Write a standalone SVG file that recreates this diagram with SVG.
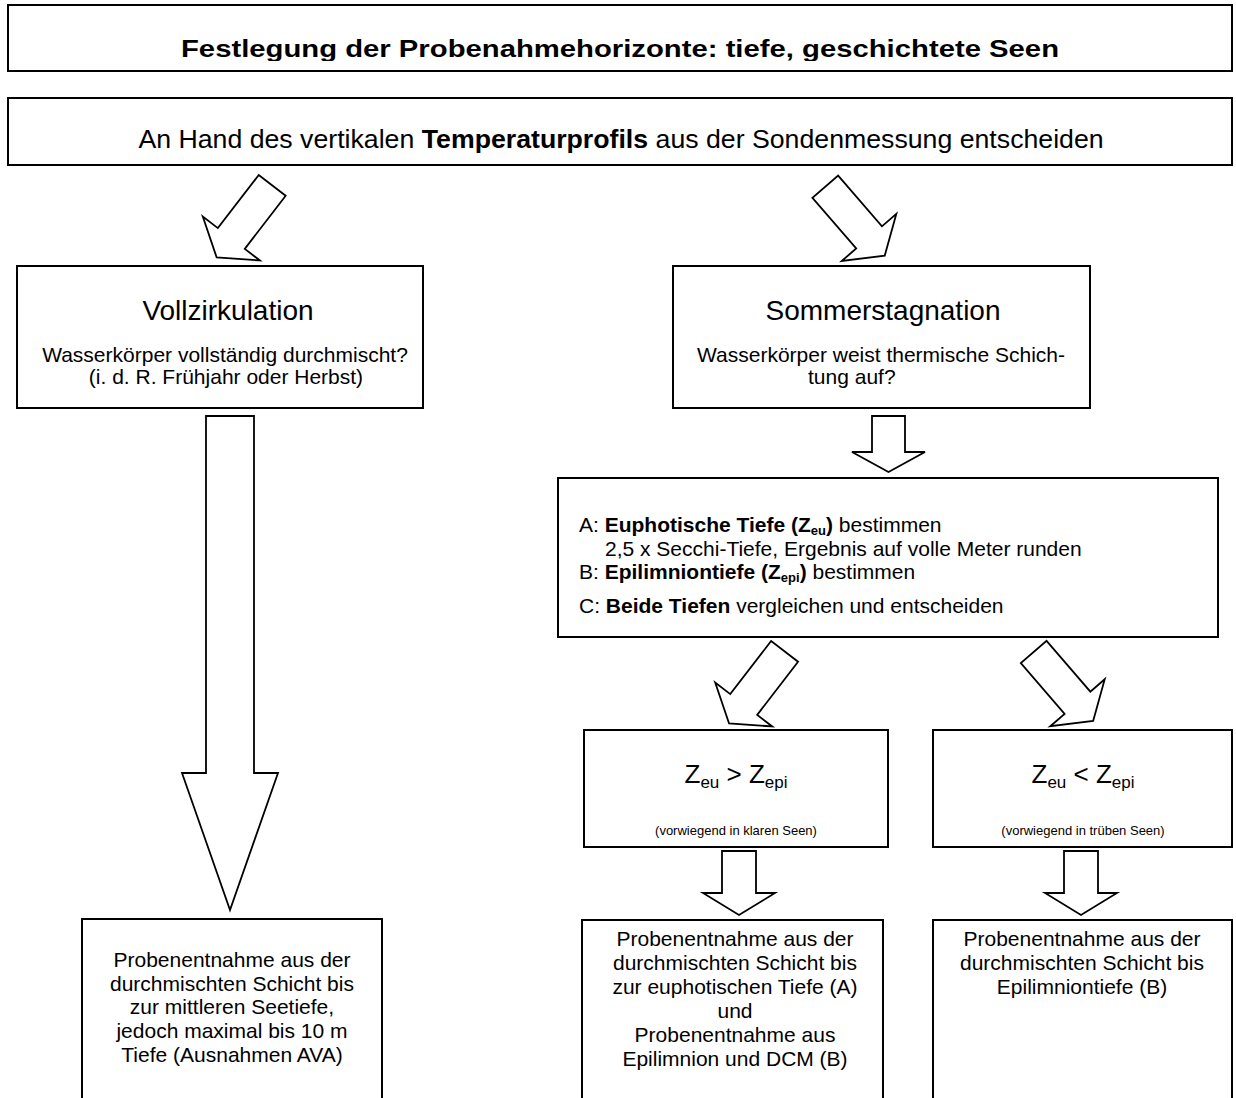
<svg xmlns="http://www.w3.org/2000/svg" width="1236" height="1098" viewBox="0 0 1236 1098">
<style>
 svg{font-size:21px}
 .box{fill:#fff;stroke:#000;stroke-width:2}
 .arr{fill:#fff;stroke:#000;stroke-width:1.8;stroke-linejoin:miter}
 text{font-family:"Liberation Sans",Arial,Helvetica,sans-serif;fill:#000}
 .c{text-anchor:middle}
 .b{font-weight:bold}
 .h{font-size:28px}
 .s{font-size:13px}
 .z{font-size:26px}
 .zs{font-size:17px}
 .n{font-size:13px}
</style>
<defs>
 <path id="diag" d="M0,-17 L67,-17 L67,-36 L91,0 L67,36 L67,17 L0,17 Z"/>
 <clipPath id="titleclip"><rect x="0" y="0" width="1236" height="61"/></clipPath>
</defs>
<rect width="1236" height="1098" fill="#fff"/>

<g id="connectors">
 <use href="#diag" class="arr" transform="translate(272.2,185.4) rotate(127.6)"/>
 <use href="#diag" class="arr" transform="translate(825.3,186.7) rotate(49.2)"/>
 <use href="#diag" class="arr" transform="translate(784.6,651.4) rotate(127.6)"/>
 <use href="#diag" class="arr" transform="translate(1033.7,652) rotate(49.2)"/>
 <path class="arr" d="M206,416 H254 V773 H278 L230,910 L182,773 H206 Z"/>
 <path class="arr" d="M872,416 H905 V452 H925 L888.5,472 L852,452 H872 Z"/>
 <path class="arr" d="M722,851 H756 V893 H775 L739,915 L703,893 H722 Z"/>
 <path class="arr" d="M1064,851 H1098 V893 H1117 L1081,915 L1045,893 H1064 Z"/>
</g>

<g id="title">
 <rect class="box" x="8" y="5" width="1224" height="66"/>
 <text x="181" y="57" class="b" font-size="24" textLength="878" lengthAdjust="spacingAndGlyphs" clip-path="url(#titleclip)">Festlegung der Probenahmehorizonte: tiefe, geschichtete Seen</text>
</g>

<g id="start">
 <rect class="box" x="8" y="98" width="1224" height="67"/>
 <text x="621" y="148" class="c" font-size="26.7">An Hand des vertikalen <tspan class="b">Temperaturprofils</tspan> aus der Sondenmessung entscheiden</text>
</g>

<g id="vollzirkulation">
 <rect class="box" x="17" y="266" width="406" height="142"/>
 <text x="228" y="320" class="c h">Vollzirkulation</text>
 <text x="225" y="362" class="c">Wasserkörper vollständig durchmischt?</text>
 <text x="226" y="384" class="c">(i. d. R. Frühjahr oder Herbst)</text>
</g>

<g id="sommerstagnation">
 <rect class="box" x="673" y="266" width="417" height="142"/>
 <text x="883" y="320" class="c h">Sommerstagnation</text>
 <text x="881" y="362" class="c">Wasserkörper weist thermische Schich-</text>
 <text x="808" y="384">tung auf?</text>
</g>

<g id="tiefen">
 <rect class="box" x="558" y="478" width="660" height="159"/>
 <text x="579" y="532">A: <tspan class="b">Euphotische Tiefe (Z<tspan class="s" dy="3">eu</tspan><tspan dy="-3">)</tspan></tspan> bestimmen</text>
 <text x="605" y="556">2,5 x Secchi-Tiefe, Ergebnis auf volle Meter runden</text>
 <text x="579" y="579">B: <tspan class="b">Epilimniontiefe (Z<tspan class="s" dy="3">epi</tspan><tspan dy="-3">)</tspan></tspan> bestimmen</text>
 <text x="579" y="613">C: <tspan class="b">Beide Tiefen</tspan> vergleichen und entscheiden</text>
</g>

<g id="klar">
 <rect class="box" x="584" y="730" width="304" height="117"/>
 <text x="736" y="783" class="c z">Z<tspan class="zs" dy="5">eu</tspan><tspan dy="-5"> &gt; Z</tspan><tspan class="zs" dy="5">epi</tspan></text>
 <text x="736" y="835" class="c n">(vorwiegend in klaren Seen)</text>
</g>

<g id="trueb">
 <rect class="box" x="933" y="730" width="299" height="117"/>
 <text x="1083" y="783" class="c z">Z<tspan class="zs" dy="5">eu</tspan><tspan dy="-5"> &lt; Z</tspan><tspan class="zs" dy="5">epi</tspan></text>
 <text x="1083" y="835" class="c n">(vorwiegend in trüben Seen)</text>
</g>

<g id="probe-voll">
 <rect class="box" x="82" y="919" width="300" height="200"/>
 <text class="c" x="232" y="967">Probenentnahme aus der</text>
 <text class="c" x="232" y="991">durchmischten Schicht bis</text>
 <text class="c" x="232" y="1014">zur mittleren Seetiefe,</text>
 <text class="c" x="232" y="1038">jedoch maximal bis 10 m</text>
 <text class="c" x="232" y="1062">Tiefe (Ausnahmen AVA)</text>
</g>

<g id="probe-klar">
 <rect class="box" x="582" y="920" width="301" height="200"/>
 <text class="c" x="735" y="946">Probenentnahme aus der</text>
 <text class="c" x="735" y="970">durchmischten Schicht bis</text>
 <text class="c" x="735" y="994">zur euphotischen Tiefe (A)</text>
 <text class="c" x="735" y="1018">und</text>
 <text class="c" x="735" y="1042">Probenentnahme aus</text>
 <text class="c" x="735" y="1066">Epilimnion und DCM (B)</text>
</g>

<g id="probe-trueb">
 <rect class="box" x="933" y="920" width="299" height="200"/>
 <text class="c" x="1082" y="946">Probenentnahme aus der</text>
 <text class="c" x="1082" y="970">durchmischten Schicht bis</text>
 <text class="c" x="1082" y="994">Epilimniontiefe (B)</text>
</g>
</svg>
